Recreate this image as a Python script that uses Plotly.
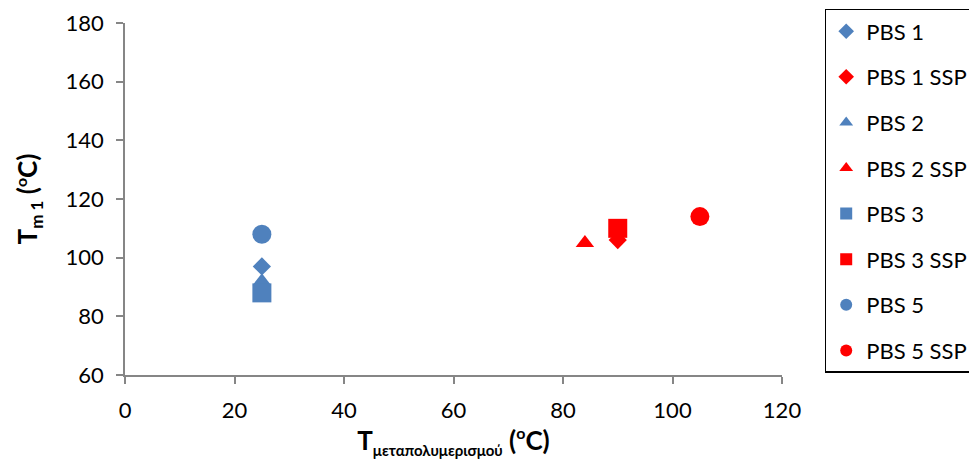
import plotly.graph_objects as go

# Series: post-polymerization temperature (°C) vs. first melting peak Tm1 (°C)
series_names = ["PBS 1", "PBS 1 SSP", "PBS 2", "PBS 2 SSP",
                "PBS 3", "PBS 3 SSP", "PBS 5", "PBS 5 SSP"]
t_post = [25, 90, 25, 84, 25, 90, 25, 105]
t_m1 = [97, 106, 92, 105, 88, 110, 108, 114]

symbols = ["diamond", "diamond", "triangle-up", "triangle-up",
           "square", "square", "circle", "circle"]
sizes = [14, 14, 16, 16, 19, 19, 19, 19]
colors = ["#4F81BD", "#FF0000"] * 4

x_ticks = [0, 20, 40, 60, 80, 100, 120]
y_ticks = [60, 80, 100, 120, 140, 160, 180]

FONT = "Lato, Carlito, Calibri, sans-serif"

fig = go.Figure()
for i, name in enumerate(series_names):
    fig.add_trace(go.Scatter(
        x=[t_post[i]], y=[t_m1[i]], name=name, mode="markers",
        legendgroup=name,
        marker=dict(symbol=symbols[i], size=sizes[i], color=colors[i],
                    line=dict(width=0)),
    ))

axis_common = dict(
    showgrid=False, zeroline=False, showline=True,
    linecolor="#868686", linewidth=1.5,
    ticks="outside", ticklen=7, tickcolor="#868686", tickwidth=1.5,
    tickfont=dict(family=FONT, size=22, color="black"),
    ticklabelstandoff=8,
)

x_title = ("<b>T<sub><span style='font-size:15px'>μεταπολυμερισμού</span></sub>"
           " (<sup><span style='font-size:16px'>o</span></sup>C)</b>")
y_title = ("<b>T<sub><span style='font-size:17px'>m 1</span></sub>"
           " (<sup><span style='font-size:16px'>o</span></sup>C)</b>")

fig.update_layout(
    width=969, height=463,
    margin=dict(l=125, r=187, t=23, b=88, autoexpand=False),
    paper_bgcolor="white", plot_bgcolor="white",
    font=dict(family=FONT, color="black"),
    xaxis=dict(range=[0, 120], tickvals=x_ticks, **axis_common,
               title=dict(text=x_title, font=dict(family=FONT, size=26),
                          standoff=10)),
    yaxis=dict(range=[60, 180], tickvals=y_ticks, **axis_common,
               title=dict(text=y_title, font=dict(family=FONT, size=26),
                          standoff=20)),
    legend=dict(
        x=1.065, y=1.04, xanchor="left", yanchor="top",
        bordercolor="black", borderwidth=1.5, bgcolor="white",
        font=dict(family=FONT, size=22),
        traceorder="grouped", tracegroupgap=14,
        itemsizing="constant", maxheight=420,
    ),
    showlegend=True,
)

fig.write_html("out.html")
